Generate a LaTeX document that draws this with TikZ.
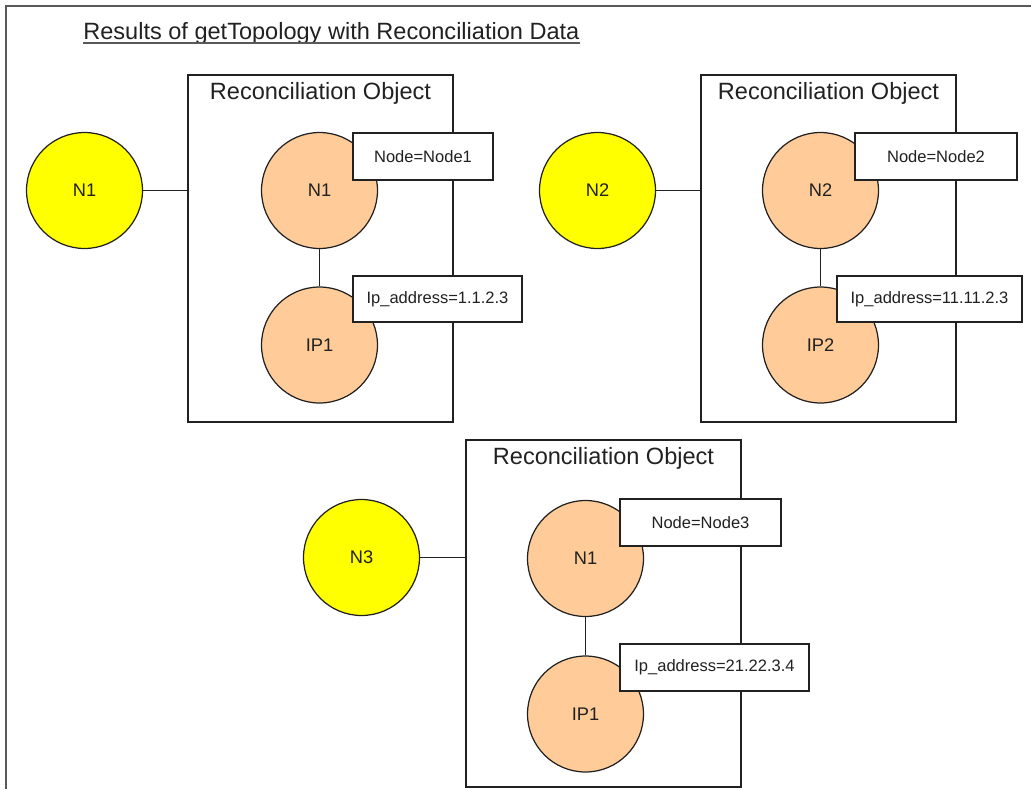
\documentclass[tikz,border=0pt]{standalone}
\usepackage{fontspec}
\setmainfont{Liberation Sans}
\usetikzlibrary{calc}
\definecolor{HostClr}{rgb}{1,1,0}
\definecolor{ObjClr}{rgb}{1,0.8,0.6}
\definecolor{FrameClr}{rgb}{0.35,0.35,0.35}
\definecolor{InkClr}{rgb}{0.13,0.13,0.13}

\begin{document}
\begin{tikzpicture}[x=0.02cm,y=-0.02cm,
  host/.style={circle,draw=InkClr,line width=0.7pt,fill=HostClr,minimum size=2.32cm,inner sep=0pt,text=InkClr,font=\fontsize{10.4}{12}\selectfont},
  obj/.style={host,fill=ObjClr},
  recbox/.style={draw=InkClr,line width=0.9pt,minimum height=6.94cm,inner sep=0pt},
  head/.style={anchor=base,inner sep=0pt,text=InkClr,font=\fontsize{13.4}{16}\selectfont},
  tag/.style={draw=InkClr,line width=0.9pt,fill=white,minimum height=0.93cm,inner sep=0pt,text=InkClr,font=\fontsize{9.4}{11}\selectfont},
  link/.style={line width=0.85pt,InkClr}]
\useasboundingbox (0,0) rectangle (1031,789);

\draw[line width=1.2pt,FrameClr] (6,789) -- (6,6) -- (1031,6);

\node[head,anchor=base west] (title) at (83,39) {Results of getTopology with Reconciliation Data};
\draw[line width=0.8pt,FrameClr] ([yshift=-0.08cm]title.base west) -- ([yshift=-0.08cm]title.base east);

\node[recbox,minimum width=5.3cm] (b1) at (320.5,248.5) {};
\node[recbox,minimum width=5.1cm] (b2) at (828.5,248.5) {};
\node[recbox,minimum width=5.5cm] (b3) at (603.5,613.5) {};

\node[head] (hd1) at ([yshift=-0.5cm]b1.north) {Reconciliation Object};
\node[head] (hd2) at ([yshift=-0.5cm]b2.north) {Reconciliation Object};
\node[head] (hd3) at ([yshift=-0.5cm]b3.north) {Reconciliation Object};

\node[host] (h1) at (84.5,190.5) {N1};
\node[host] (h2) at (597.5,190.5) {N2};
\node[host] (h3) at (361.5,557.5) {N3};

\node[obj] (n1) at (319.5,190.5) {N1};
\node[obj] (ip1) at (319.5,345) {IP1};
\node[obj] (n2) at (820.5,190.5) {N2};
\node[obj] (ip2) at (820.5,345) {IP2};
\node[obj] (n3) at (585.5,558.5) {N1};
\node[obj] (ip3) at (585.5,714) {IP1};

\draw[link] (h1.east) -- (h1.east -| b1.west);
\draw[link] (h2.east) -- (h2.east -| b2.west);
\draw[link] (h3.east) -- (h3.east -| b3.west);
\draw[link] (n1) -- (ip1);
\draw[link] (n2) -- (ip2);
\draw[link] (n3) -- (ip3);

\node[tag,minimum width=2.8cm] (t1) at (423,156.5) {Node=Node1};
\node[tag,minimum width=3.38cm] (a1) at (437.5,299) {Ip\_address=1.1.2.3};
\node[tag,minimum width=3.24cm] (t2) at (936,156.5) {Node=Node2};
\node[tag,minimum width=3.7cm] (a2) at (929.5,299) {Ip\_address=11.11.2.3};
\node[tag,minimum width=3.22cm] (t3) at (700.5,522.5) {Node=Node3};
\node[tag,minimum width=3.78cm] (a3) at (714.5,667.5) {Ip\_address=21.22.3.4};

\end{tikzpicture}
\end{document}
